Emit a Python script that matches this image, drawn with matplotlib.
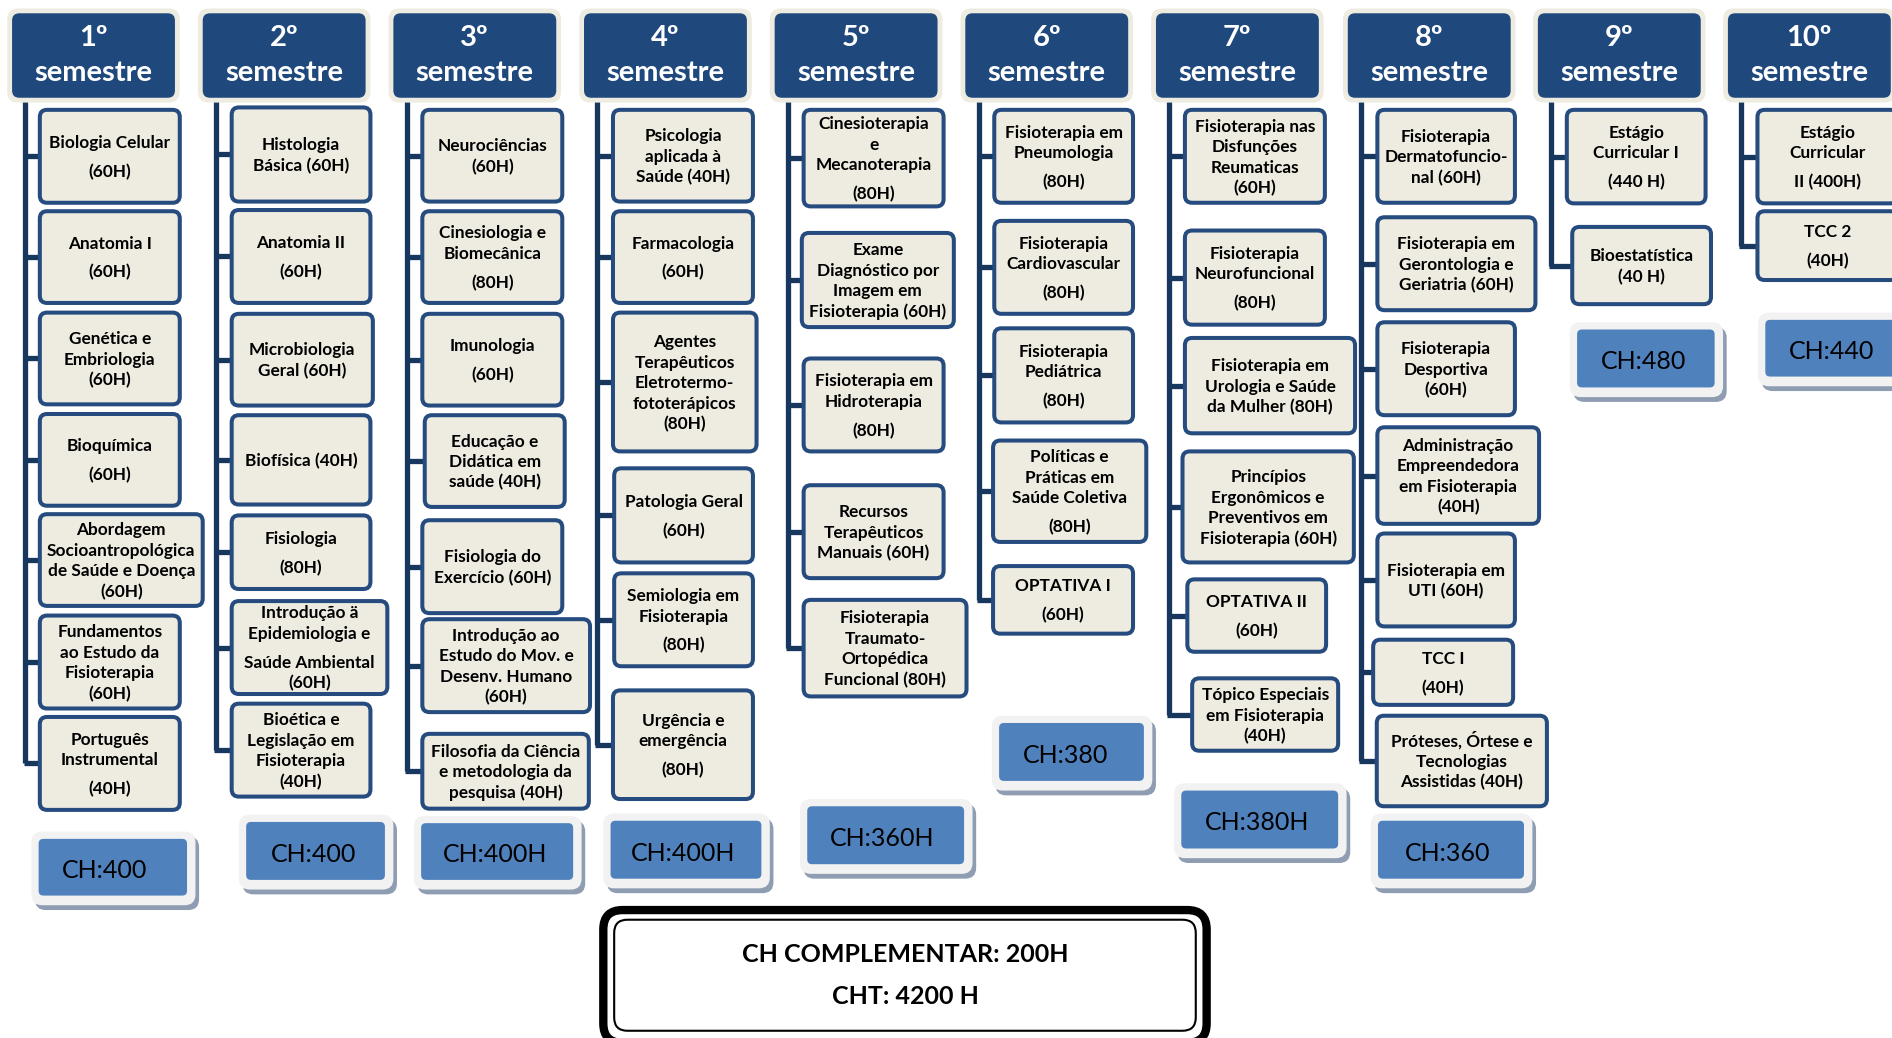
import matplotlib
matplotlib.use("Agg")
import matplotlib.pyplot as plt
from matplotlib.patches import FancyBboxPatch

plt.rcParams['font.family'] = ['Lato', 'DejaVu Sans']

# ---- data ----
semesters = ['1º', '2º', '3º', '4º', '5º', '6º', '7º', '8º', '9º', '10º']

sem1 = ["Biologia Celular\n\n(60H)", "Anatomia I\n\n(60H)", "Genética e\nEmbriologia\n(60H)",
        "Bioquímica\n\n(60H)", "Abordagem\nSocioantropológica\nde Saúde e Doença\n(60H)",
        "Fundamentos\nao Estudo da\nFisioterapia\n(60H)", "Português\nInstrumental\n\n(40H)"]
sem2 = ["Histologia\nBásica (60H)", "Anatomia II\n\n(60H)", "Microbiologia\nGeral (60H)",
        "Biofísica (40H)", "Fisiologia\n\n(80H)",
        "Introdução ä\nEpidemiologia e\n\nSaúde Ambiental\n(60H)",
        "Bioética e\nLegislação em\nFisioterapia\n(40H)"]
sem3 = ["Neurociências\n(60H)", "Cinesiologia e\nBiomecânica\n\n(80H)", "Imunologia\n\n(60H)",
        "Educação e\nDidática em\nsaúde (40H)", "Fisiologia do\nExercício (60H)",
        "Introdução ao\nEstudo do Mov. e\nDesenv. Humano\n(60H)",
        "Filosofia da Ciência\ne metodologia da\npesquisa (40H)"]
sem4 = ["Psicologia\naplicada à\nSaúde (40H)", "Farmacologia\n\n(60H)",
        "Agentes\nTerapêuticos\nEletrotermo-\nfototerápicos\n(80H)", "Patologia Geral\n\n(60H)",
        "Semiologia em\nFisioterapia\n\n(80H)", "Urgência e\nemergência\n\n(80H)"]
sem5 = ["Cinesioterapia\ne\nMecanoterapia\n\n(80H)", "Exame\nDiagnóstico por\nImagem em\nFisioterapia (60H)",
        "Fisioterapia em\nHidroterapia\n\n(80H)", "Recursos\nTerapêuticos\nManuais (60H)",
        "Fisioterapia\nTraumato-\nOrtopédica\nFuncional (80H)"]
sem6 = ["Fisioterapia em\nPneumologia\n\n(80H)", "Fisioterapia\nCardiovascular\n\n(80H)",
        "Fisioterapia\nPediátrica\n\n(80H)", "Políticas e\nPráticas em\nSaúde Coletiva\n\n(80H)",
        "OPTATIVA I\n\n(60H)"]
sem7 = ["Fisioterapia nas\nDisfunções\nReumaticas\n(60H)", "Fisioterapia\nNeurofuncional\n\n(80H)",
        "Fisioterapia em\nUrologia e Saúde\nda Mulher (80H)",
        "Princípios\nErgonômicos e\nPreventivos em\nFisioterapia (60H)",
        "OPTATIVA II\n\n(60H)", "Tópico Especiais\nem Fisioterapia\n(40H)"]
sem8 = ["Fisioterapia\nDermatofuncio-\nnal (60H)", "Fisioterapia em\nGerontologia e\nGeriatria (60H)",
        "Fisioterapia\nDesportiva\n(60H)", "Administração\nEmpreendedora\nem Fisioterapia\n(40H)",
        "Fisioterapia em\nUTI (60H)", "TCC I\n\n(40H)",
        "Próteses, Órtese e\nTecnologias\nAssistidas (40H)"]
sem9 = ["Estágio\nCurricular I\n\n(440 H)", "Bioestatística\n(40 H)"]
sem10 = ["Estágio\nCurricular\n\nII (400H)", "TCC 2\n\n(40H)"]
courses = [sem1, sem2, sem3, sem4, sem5, sem6, sem7, sem8, sem9, sem10]

ch_labels = ['CH:400', 'CH:400', 'CH:400H', 'CH:400H', 'CH:360H',
             'CH:380', 'CH:380H', 'CH:360', 'CH:480', 'CH:440']
total_lines = ['CH COMPLEMENTAR: 200H', 'CHT: 4200 H']

# ---- layout (canvas units, 1568 x 860) ----
line_x = [21, 179, 337, 495, 653, 811, 969, 1128, 1285.5, 1443]
box_y = [
    [(91, 168), (175, 251), (259, 335), (343, 419), (426, 502), (510, 587), (594, 671)],
    [(89, 167), (174, 251), (260, 336), (344, 418), (427, 488), (498, 575), (583, 660)],
    [(91, 167), (175, 251), (260, 336), (344, 420), (431, 508), (513, 590), (608, 670)],
    [(91, 167), (175, 251), (259, 374), (388, 466), (475, 552), (572, 662)],
    [(91, 171), (193, 271), (297, 374), (402, 479), (497, 577)],
    [(91, 168), (183, 260), (272, 350), (365, 449), (469, 525)],
    [(91, 168), (191, 269), (280, 359), (374, 466), (480, 540), (562, 622)],
    [(91, 168), (180, 257), (267, 344), (354, 434), (442, 519), (530, 584), (593, 668)],
    [(91, 168.5), (188, 252)],
    [(91, 168.5), (175, 232)],
]
box_w = [
    [116, 116, 116, 116, 135, 116, 116],
    [115, 115, 117, 115, 115, 129, 115],
    [116, 116, 116, 116, 116, 139, 138],
    [116, 116, 119, 115, 115, 116],
    [116, 126, 116, 116, 135],
    [115, 115, 115, 127, 116],
    [116, 116, 141, 142, 115, 121],
    [114, 131, 114, 134, 114, 116, 141],
    [115, 115],
    [116, 116],
]
box_dx = [
    [12, 12, 12, 12, 12, 12, 12],
    [13, 13, 13, 13, 13, 13, 13],
    [13, 13, 13, 15, 13, 13, 13],
    [13, 13, 13, 14, 14, 13],
    [13, 11.5, 13, 13, 13],
    [13, 13, 13, 12, 12],
    [13, 13, 13, 11, 15, 19],
    [13.5, 13.5, 13.5, 13.5, 13.5, 10, 13],
    [13, 17.5],
    [13.5, 13.5],
]
# inner blue CH boxes: left, top, width, height; then label x shift
ch_box = [(32, 695, 123, 47), (204, 681, 115, 48), (349, 682, 126, 47), (506, 680, 125, 48),
          (669, 668, 130, 48), (828, 599, 120, 48), (979, 655, 130, 48), (1142, 680, 121, 48),
          (1307, 273, 114, 48), (1463, 265, 120, 47)]
ch_dx = [-7, -2, -2, -2, -3, -5, -2, -3, -2, -5]

HEAD_DARK = '#1f497d'
BEIGE = '#eeece1'
EDGE = '#254b7f'
LINE = '#17375e'
CH_BLUE = '#4f81bd'

fig = plt.figure(figsize=(18.92, 10.38), dpi=100)
ax = fig.add_axes([0, 0, 1, 1])
ax.set_xlim(0, 1568)
ax.set_ylim(860, 0)
ax.axis('off')


def rbox(x, y, w, h, r, fc, ec='none', lw=0, z=2):
    p = FancyBboxPatch((x, y), w, h, boxstyle=f"round,pad=0,rounding_size={r}",
                       fc=fc, ec=ec, lw=lw, zorder=z)
    ax.add_patch(p)
    return p


def box_text(cx, cy, label, size=12.4, L=17):
    lines, ys = [], []
    y, extra = 0, 0
    for part in label.split('\n'):
        if part == '':
            extra += 0.42 * L
            continue
        if lines:
            y += L + extra
        extra = 0
        lines.append(part)
        ys.append(y)
    mid = (ys[0] + ys[-1]) / 2
    for t, yy in zip(lines, ys):
        ax.text(cx, cy + yy - mid + 5, t, ha='center', va='baseline',
                fontsize=size, fontweight='bold', color='black', zorder=5)


for i, sem in enumerate(semesters):
    lx = line_x[i]
    hx = lx - 11
    # header
    rbox(hx - 4, 7, 143, 78, 9, BEIGE, z=2)
    rbox(hx, 11, 135, 70, 6, HEAD_DARK, z=3)
    ax.text(hx + 67.5, 38.5, sem, ha='center', va='baseline', color='white',
            fontsize=21, fontweight='bold', zorder=4)
    ax.text(hx + 67.5, 67.5, 'semestre', ha='center', va='baseline', color='white',
            fontsize=21, fontweight='bold', zorder=4)

    # connector trunk
    mids = [(t + b) / 2 for t, b in box_y[i]]
    ax.plot([lx, lx], [81, mids[-1]], color=LINE, lw=3.8, solid_capstyle='butt', zorder=1)
    for j, label in enumerate(courses[i]):
        t, b = box_y[i][j]
        x0 = lx + box_dx[i][j]
        w = box_w[i][j]
        m = mids[j]
        ax.plot([lx - 1.5, x0], [m, m], color=LINE, lw=3.8, solid_capstyle='butt', zorder=1)
        rbox(x0, t, w, b - t, 6, BEIGE, EDGE, 2.9, z=3)
        box_text(x0 + w / 2, m, label)

    # CH box
    bx, by, bw, bh = ch_box[i]
    rbox(bx - 6 + 3, by - 6 + 4, bw + 13, bh + 14, 9, '#8f9db3', z=2)
    rbox(bx - 6, by - 6, bw + 13, bh + 14, 9, '#f2f2f2', z=2.5)
    rbox(bx, by, bw, bh, 4, CH_BLUE, z=3)
    ax.text(bx + bw / 2 + ch_dx[i], by + bh / 2 + 9, ch_labels[i], ha='center', va='baseline',
            fontsize=18, color='black', zorder=4)

# totals box
rbox(500, 754, 500, 110, 16, 'white', 'black', 6, z=3)
rbox(509, 762, 482, 92, 11, 'none', 'black', 1.5, z=4)
ax.text(750, 797, total_lines[0], ha='center', va='baseline', fontsize=18,
        fontweight='bold', zorder=5)
ax.text(750, 832, total_lines[1], ha='center', va='baseline', fontsize=18,
        fontweight='bold', zorder=5)

fig.savefig('out.png', dpi=100, facecolor='white')
